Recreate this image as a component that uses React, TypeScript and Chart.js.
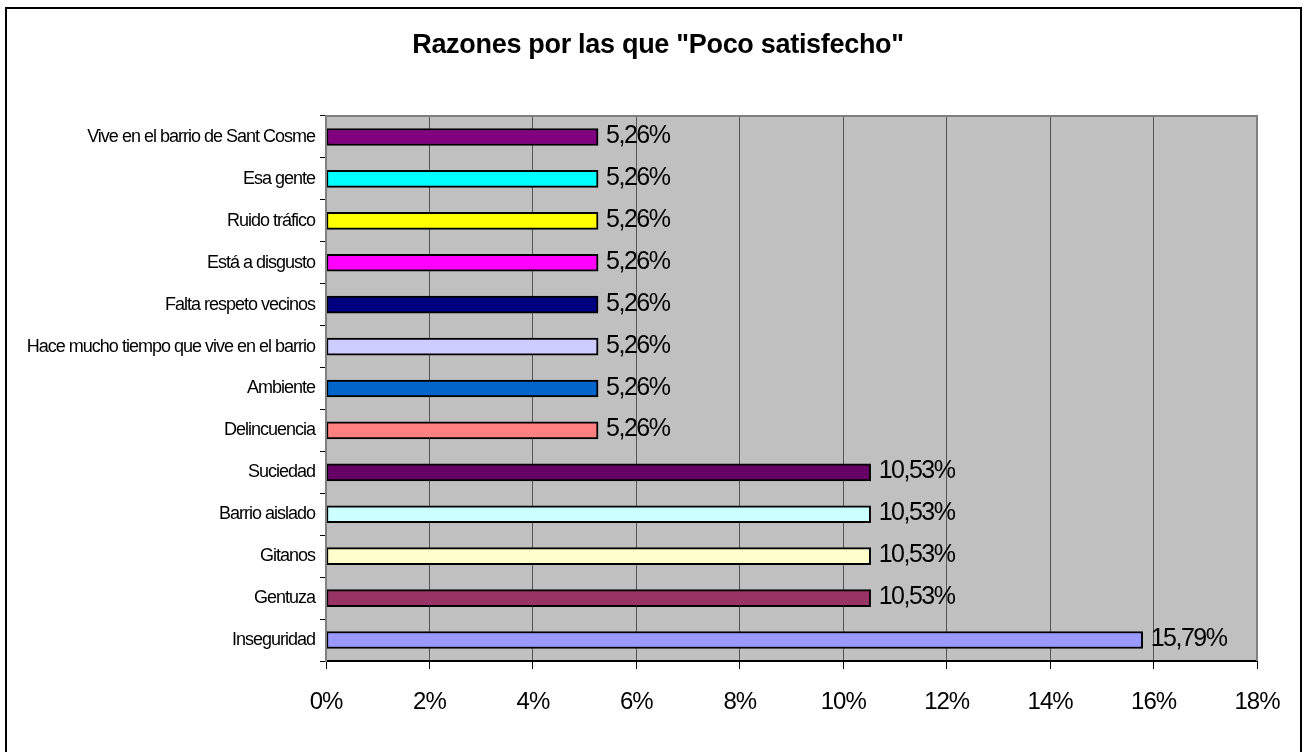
import React, { useEffect, useRef } from "react";
import { Chart, registerables } from "chart.js";

Chart.register(...registerables);

const TITLE = 'Razones por las que "Poco satisfecho"';

const categories = [
  "Vive en el barrio de Sant Cosme",
  "Esa gente",
  "Ruido tráfico",
  "Está a disgusto",
  "Falta respeto vecinos",
  "Hace mucho tiempo que vive en el barrio",
  "Ambiente",
  "Delincuencia",
  "Suciedad",
  "Barrio aislado",
  "Gitanos",
  "Gentuza",
  "Inseguridad",
];

const values = [5.26, 5.26, 5.26, 5.26, 5.26, 5.26, 5.26, 5.26, 10.53, 10.53, 10.53, 10.53, 15.79];

const valueLabels = [
  "5,26%", "5,26%", "5,26%", "5,26%", "5,26%", "5,26%", "5,26%", "5,26%",
  "10,53%", "10,53%", "10,53%", "10,53%", "15,79%",
];

const barColors = [
  "#800080", "#00FFFF", "#FFFF00", "#FF00FF", "#000080", "#CCCCFF", "#0066CC",
  "#FF8080", "#660066", "#CCFFFF", "#FFFFCC", "#993366", "#9999FF",
];

const X_MIN = 0;
const X_MAX = 18;
const X_STEP = 2;

const FONT = "Arial, 'Liberation Sans', sans-serif";

const decorPlugin = {
  id: "decor",
  beforeDraw(chart: any) {
    const { ctx, chartArea, width, height } = chart;
    ctx.save();
    ctx.fillStyle = "#FFFFFF";
    ctx.fillRect(0, 0, width, height);
    ctx.fillStyle = "#C0C0C0";
    ctx.fillRect(chartArea.left, chartArea.top, chartArea.right - chartArea.left, chartArea.bottom - chartArea.top);
    ctx.restore();
    ctx.letterSpacing = "-1px";
  },
  afterDatasetsDraw(chart: any) {
    const { ctx, chartArea } = chart;
    ctx.save();
    ctx.strokeStyle = "#808080";
    ctx.lineWidth = 2;
    ctx.beginPath();
    ctx.moveTo(chartArea.left, chartArea.bottom);
    ctx.lineTo(chartArea.left, chartArea.top);
    ctx.lineTo(chartArea.right, chartArea.top);
    ctx.lineTo(chartArea.right, chartArea.bottom);
    ctx.stroke();
    ctx.restore();
  },
  afterDraw(chart: any) {
    const { ctx } = chart;
    ctx.save();
    // value labels
    const meta = chart.getDatasetMeta(0);
    ctx.font = `25px ${FONT}`;
    ctx.letterSpacing = "-1.5px";
    ctx.fillStyle = "#000";
    ctx.textAlign = "left";
    ctx.textBaseline = "alphabetic";
    meta.data.forEach((bar: any, i: number) => {
      ctx.fillText(valueLabels[i], bar.x + 8, bar.y + 6);
    });
    // title
    ctx.letterSpacing = "-0.3px";
    ctx.font = `bold 27px ${FONT}`;
    ctx.textAlign = "center";
    ctx.fillText(TITLE, 658, 53);
    // outer frame
    ctx.letterSpacing = "0px";
    ctx.strokeStyle = "#000";
    ctx.lineWidth = 2;
    ctx.strokeRect(6, 8, 1295, 760);
    ctx.restore();
    ctx.letterSpacing = "0px";
  },
};

export default function App() {
  const ref = useRef<HTMLCanvasElement>(null);
  useEffect(() => {
    if (!ref.current) return;
    const chart = new Chart(ref.current, {
      type: "bar",
      data: {
        labels: categories,
        datasets: [
          {
            data: values,
            backgroundColor: barColors,
            borderColor: "#000000",
            borderWidth: 2,
            borderSkipped: false,
            barThickness: 17,
          },
        ],
      },
      options: {
        indexAxis: "y",
        animation: false,
        responsive: false,
        devicePixelRatio: 1,
        layout: { padding: { top: 116, right: 49, left: 0, bottom: 0 } },
        plugins: {
          legend: { display: false },
          title: { display: false },
          tooltip: { enabled: false },
        },
        scales: {
          x: {
            min: X_MIN,
            max: X_MAX,
            ticks: {
              stepSize: X_STEP,
              callback: (v: any) => `${v}%`,
              color: "#000",
              font: { family: FONT, size: 24 },
              padding: 19,
              maxRotation: 0,
            },
            grid: {
              color: "#555555",
              lineWidth: 1,
              tickLength: 8,
              tickColor: "#000",
            },
            border: { color: "#000", width: 2 },
            afterFit: (s: any) => {
              s.height = 91;
            },
          },
          y: {
            ticks: {
              color: "#000",
              font: { family: FONT, size: 18 },
              padding: 5,
              autoSkip: false,
            },
            grid: {
              offset: true,
              drawOnChartArea: false,
              tickLength: 6,
              tickColor: "#000",
            },
            border: { color: "#808080", width: 2 },
            afterFit: (s: any) => {
              s.width = 326;
            },
          },
        },
      },
      plugins: [decorPlugin],
    });
    return () => chart.destroy();
  }, []);
  return (
    <div style={{ position: "absolute", left: 0, top: 0, width: 1306, height: 752 }}>
      <canvas ref={ref} width={1306} height={752} />
    </div>
  );
}
